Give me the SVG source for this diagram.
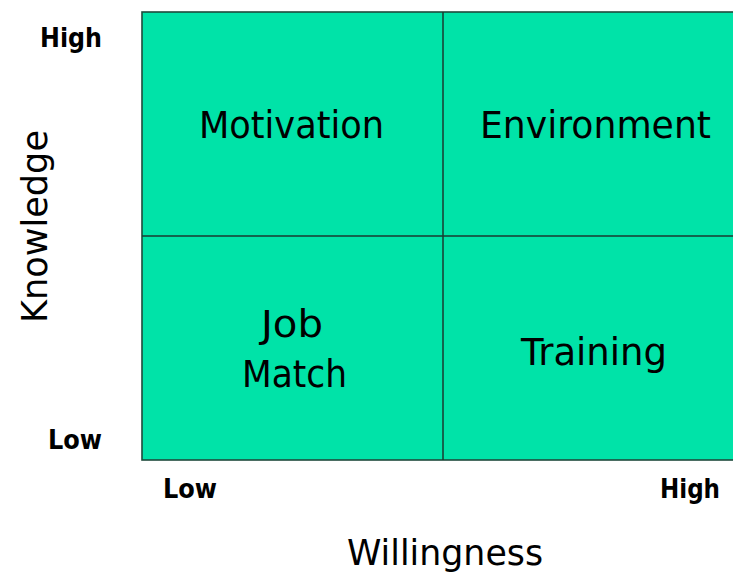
<svg xmlns="http://www.w3.org/2000/svg" width="733" height="577" viewBox="0 0 733 577">
<style>
  .q { font-family: "DejaVu Sans", Verdana, sans-serif; font-size: 37px; fill: #000; }
  .ax { font-family: "DejaVu Sans", Verdana, sans-serif; font-size: 36px; fill: #000; }
  .tick { font-family: "DejaVu Sans Condensed", "DejaVu Sans", Tahoma, sans-serif; font-weight: bold; font-size: 27px; fill: #000; }
  .frame { fill: #00E3A8; stroke: #1f4a3c; stroke-width: 1.6; }
  .div { stroke: #1a3a30; stroke-width: 1.5; fill: none; }
</style>
<rect width="733" height="577" fill="#ffffff"/>
<g id="grid">
  <rect class="frame" x="142" y="12" width="603" height="448"/>
</g>
<g id="connectors">
  <line class="div" x1="443" y1="12" x2="443" y2="460"/>
  <line class="div" x1="142" y1="236" x2="745" y2="236"/>
</g>
<g id="motivation">
  <text class="q" x="199" y="138" textLength="185" lengthAdjust="spacingAndGlyphs">Motivation</text>
</g>
<g id="environment">
  <text class="q" x="480" y="138" textLength="231" lengthAdjust="spacingAndGlyphs">Environment</text>
</g>
<g id="job-match">
  <text class="q" x="261" y="337" textLength="62" lengthAdjust="spacingAndGlyphs">Job</text>
  <text class="q" x="242" y="387" textLength="105" lengthAdjust="spacingAndGlyphs">Match</text>
</g>
<g id="training">
  <text class="q" x="521" y="365" textLength="146" lengthAdjust="spacingAndGlyphs">Training</text>
</g>
<g id="axis-knowledge">
  <text class="ax" transform="translate(47,323) rotate(-90)" x="0" y="0" textLength="193" lengthAdjust="spacingAndGlyphs">Knowledge</text>
  <text class="tick" x="40" y="47" textLength="62" lengthAdjust="spacingAndGlyphs">High</text>
  <text class="tick" x="48" y="449" textLength="54" lengthAdjust="spacingAndGlyphs">Low</text>
</g>
<g id="axis-willingness">
  <text class="ax" x="347" y="565" textLength="196" lengthAdjust="spacingAndGlyphs">Willingness</text>
  <text class="tick" x="163" y="498" textLength="54" lengthAdjust="spacingAndGlyphs">Low</text>
  <text class="tick" x="660" y="498" textLength="60" lengthAdjust="spacingAndGlyphs">High</text>
</g>
</svg>
